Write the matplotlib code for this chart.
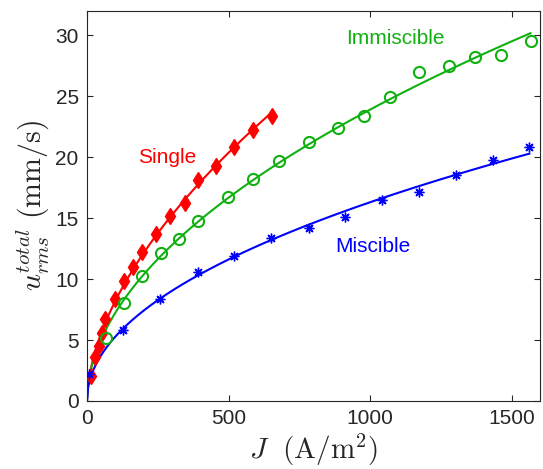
import matplotlib
matplotlib.use('Agg')
import matplotlib.pyplot as plt
import numpy as np

plt.rcParams['font.family'] = ['Liberation Sans', 'DejaVu Sans']
plt.rcParams['mathtext.fontset'] = 'cm'

# Single (red diamonds)
single_J = [14, 29, 41, 53, 63, 98, 130, 163, 196, 245, 294, 348, 391, 456, 520, 585, 653]
single_u = [2.05, 3.6, 4.5, 5.6, 6.7, 8.4, 9.8, 10.95, 12.2, 13.7, 15.2, 16.2, 18.1, 19.3, 20.8, 22.2, 23.4]

# Immiscible (green circles)
immis_J = [66, 130, 196, 262, 325, 391, 497, 587, 680, 784, 887, 980, 1071, 1174, 1279, 1370, 1461, 1567]
immis_u = [5.2, 8.0, 10.25, 12.15, 13.25, 14.75, 16.7, 18.2, 19.7, 21.2, 22.35, 23.4, 24.95, 27.0, 27.45, 28.2, 28.4, 29.55]

# Miscible (blue asterisks)
mis_J = [8, 128, 259, 391, 520, 649, 784, 913, 1044, 1174, 1305, 1434, 1563]
mis_u = [2.2, 5.8, 8.4, 10.6, 11.9, 13.4, 14.15, 15.1, 16.5, 17.1, 18.5, 19.8, 20.85]

red = '#ff0000'
green = '#10b010'
blue = '#0000ff'
dark = '#262626'


def power_fit(x, y):
    # least squares fit of u = a * J^b (scan b, closed form a)
    x = np.asarray(x, float)
    y = np.asarray(y, float)
    best = None
    for b in np.linspace(0.2, 1.0, 801):
        xb = x ** b
        a = np.sum(y * xb) / np.sum(xb * xb)
        err = np.sum((y - a * xb) ** 2)
        if best is None or err < best[0]:
            best = (err, a, b)
    _, a, b = best
    xs = np.linspace(0, x.max(), 400)
    return xs, a * xs ** b


fig = plt.figure(figsize=(5.43, 4.69), dpi=100)
ax = fig.add_axes([0.1602, 0.145, 0.834, 0.832])

for J, u, col in [(single_J, single_u, red), (immis_J, immis_u, green), (mis_J, mis_u, blue)]:
    xs, ys = power_fit(J, u)
    ax.plot(xs, ys, color=col, lw=1.5, zorder=2)

ax.plot(single_J, single_u, 'd', color=red, ms=8.5, zorder=3)
ax.plot(immis_J, immis_u, 'o', mfc='none', mec=green, ms=8, mew=1.5, zorder=3)
ax.plot(mis_J, mis_u, ls='none', marker=(8, 2, 0), color=blue, ms=7, mew=1.0, zorder=3)

ax.text(285, 20.0, 'Single', color=red, fontsize=15, ha='center', va='center')
ax.text(1091, 29.7, 'Immiscible', color=green, fontsize=15, ha='center', va='center')
ax.text(1010, 12.7, 'Miscible', color=blue, fontsize=15, ha='center', va='center')

ax.set_xlim(0, 1600)
ax.set_ylim(0, 32)
ax.set_xticks([0, 500, 1000, 1500])
ax.set_yticks([0, 5, 10, 15, 20, 25, 30])
ax.tick_params(direction='in', top=True, right=True, length=4, width=0.8,
               labelsize=15, colors=dark, pad=6)
for s in ax.spines.values():
    s.set_color(dark)
    s.set_linewidth(0.8)

ax.set_xlabel(r'$J\ \ (\mathrm{A/m^2})$', fontsize=21, color=dark, labelpad=2)
ax.set_ylabel(r'$u_{rms}^{total}\ (\mathrm{mm/s})$', fontsize=21.5, color=dark, labelpad=3)

fig.savefig('out.png', dpi=100)
